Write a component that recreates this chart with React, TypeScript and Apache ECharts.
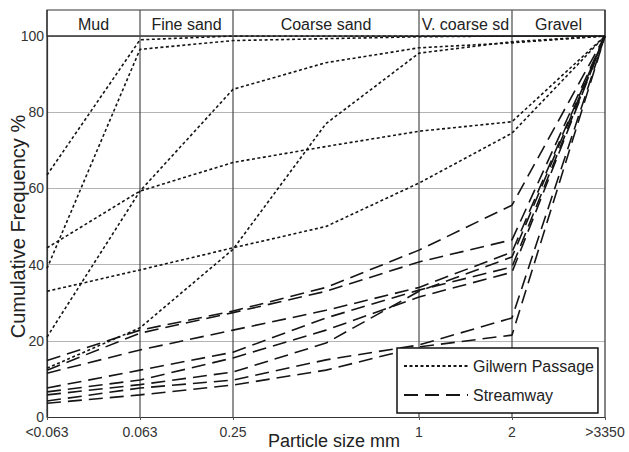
import React, { useEffect, useRef } from "react";
import * as echarts from "echarts";

// x positions of the size classes: <0.063, 0.063, 0.25, 0.5, 1, 2, >3350 mm
const xSteps = [0, 1, 2, 3, 4, 5, 6];
const tickValues = [0, 1, 2, 4, 5, 6];
const tickLabels = ["<0.063", "0.063", "0.25", "1", "2", ">3350"];
const sectionBounds = [0, 1, 2, 4, 5, 6];
const sectionNames = ["Mud", "Fine sand", "Coarse sand", "V. coarse sd", "Gravel"];

// Gilwern Passage (cumulative %)
const gilwernA = [63.5, 99, 100, 100, 100, 100, 100];
const gilwernB = [39, 96.5, 98.8, 99.3, 99.8, 100, 100];
const gilwernC = [44.4, 59.3, 66.8, 71, 75, 77.5, 100];
const gilwernD = [12.8, 23.4, 44, 77, 95.5, 98.5, 100];
const gilwernE = [21, 59.3, 86, 93, 96.9, 98.2, 100];
const gilwernF = [33, 38.6, 44.4, 50, 61.4, 74.5, 100];

// Streamway (cumulative %)
const streamA = [14.8, 22.8, 27.8, 34, 43.8, 55.6, 100];
const streamB = [12.3, 22, 27.4, 33, 40.7, 46.5, 100];
const streamC = [11.5, 17.6, 22.8, 28, 34, 43.3, 100];
const streamD = [7.6, 12.3, 17, 26, 33.3, 39.4, 100];
const streamE = [6.6, 9.7, 15.5, 22.8, 31.5, 38, 100];
const streamF = [5.8, 8.5, 11.8, 19.4, 33, 42, 100];
const streamG = [4.2, 7.6, 9.7, 15, 18.9, 26, 100];
const streamH = [3.6, 5.8, 8.4, 12.3, 18.4, 21.5, 100];

const gilwernSeries = [gilwernA, gilwernB, gilwernC, gilwernD, gilwernE, gilwernF];
const streamSeries = [streamA, streamB, streamC, streamD, streamE, streamF, streamG, streamH];

const FONT = "'Liberation Sans', Arial, Helvetica, sans-serif";

export default function App() {
  const ref = useRef<HTMLDivElement>(null);

  useEffect(() => {
    document.body.style.margin = "0";
    if (!ref.current) return;
    const chart = echarts.init(ref.current, null, { renderer: "svg" });

    const mk = (name: string, arr: number[], dash: number[]) => ({
      type: "line",
      name,
      data: xSteps.map((x, i) => [x, arr[i]]),
      symbol: "none",
      symbolSize: 0,
      showSymbol: false,
      lineStyle: { color: "#151515", width: 1.6, type: dash },
      itemStyle: { color: "#151515" },
      z: 3,
    });

    const series: any[] = [
      ...gilwernSeries.map((a) => mk("Gilwern Passage", a, [3, 2.5])),
      ...streamSeries.map((a) => mk("Streamway", a, [14, 7])),
    ];

    chart.setOption({
      animation: false,
      textStyle: { fontFamily: FONT },
      grid: {
        left: 47,
        right: 24,
        top: 36,
        bottom: 35,
        containLabel: false,
        outerBoundsMode: "none",
      },
      xAxis: {
        type: "value",
        min: 0,
        max: 6,
        name: "Particle size mm",
        nameLocation: "middle",
        nameGap: 15,
        nameMoveOverlap: false,
        nameTextStyle: { fontSize: 18, color: "#222", lineHeight: 18, padding: [0, 0, 0, 16] },
        splitLine: { show: false },
        axisLine: { show: true, lineStyle: { color: "#333", width: 1.2 } },
        axisTick: {
          show: true,
          customValues: tickValues,
          length: 3,
          lineStyle: { color: "#555" },
        },
        axisLabel: {
          customValues: tickValues,
          fontSize: 14,
          lineHeight: 14,
          color: "#333",
          margin: 8,
          formatter: (v: number) => {
            const i = tickValues.indexOf(v);
            return i >= 0 ? tickLabels[i] : "";
          },
        },
      },
      yAxis: {
        type: "value",
        min: 0,
        max: 100,
        interval: 20,
        name: "Cumulative Frequency %",
        nameLocation: "middle",
        nameGap: 19,
        nameMoveOverlap: false,
        nameTextStyle: { fontSize: 20, color: "#222" },
        axisLine: { show: true, lineStyle: { color: "#333", width: 1.2 } },
        axisTick: { show: false },
        axisLabel: { fontSize: 14, lineHeight: 14, color: "#333", margin: 3 },
        splitLine: { show: true, lineStyle: { color: "#b4b4b4", width: 1 } },
      },
      legend: {
        data: ["Gilwern Passage", "Streamway"],
        orient: "vertical",
        left: 397,
        top: 348,
        itemWidth: 64,
        itemHeight: 14,
        itemGap: 11,
        padding: [9, 4, 9, 6],
        backgroundColor: "#fff",
        borderColor: "#111",
        borderWidth: 1.5,
        itemStyle: { color: "rgba(0,0,0,0)", borderWidth: 0, opacity: 0 },
        textStyle: { fontSize: 16, color: "#222", lineHeight: 18, fontFamily: FONT },
        z: 10,
      },
      series,
    });

    const px = (x: number, y: number) =>
      chart.convertToPixel({ gridIndex: 0 } as any, [x, y]) as number[];
    const top = px(0, 100)[1];
    const bottom = px(0, 0)[1];
    const left = px(0, 0)[0];
    const right = px(6, 0)[0];
    const headerTop = top - 26;
    const stroke = "#4a4a4a";

    const graphics: any[] = [
      {
        type: "rect",
        shape: { x: left, y: headerTop, width: right - left, height: top - headerTop },
        style: { fill: "none", stroke: "#333", lineWidth: 1.2 },
        z: 1,
      },
      {
        type: "line",
        shape: { x1: left, y1: top, x2: right, y2: top },
        style: { stroke: "#333", lineWidth: 1.2 },
        z: 1,
      },
      {
        type: "line",
        shape: { x1: left, y1: headerTop, x2: left, y2: bottom },
        style: { stroke: "#333", lineWidth: 1.2 },
        z: 1,
      },
      {
        type: "line",
        shape: { x1: right, y1: headerTop, x2: right, y2: bottom },
        style: { stroke: "#333", lineWidth: 1.2 },
        z: 1,
      },
    ];
    sectionBounds.slice(1, -1).forEach((b) => {
      const x = px(b, 0)[0];
      graphics.push({
        type: "line",
        shape: { x1: x, y1: headerTop, x2: x, y2: bottom },
        style: { stroke, lineWidth: 1.2 },
        z: 1,
      });
    });
    sectionNames.forEach((name, i) => {
      const x0 = px(sectionBounds[i], 0)[0];
      const x1 = px(sectionBounds[i + 1], 0)[0];
      graphics.push({
        type: "text",
        x: (x0 + x1) / 2,
        y: (headerTop + top) / 2 + 1,
        style: {
          text: name,
          fontSize: 16,
          fontFamily: FONT,
          fill: "#222",
          align: "center",
          verticalAlign: "middle",
        },
        z: 2,
      });
    });
    chart.setOption({ graphic: graphics });

    return () => chart.dispose();
  }, []);

  return <div ref={ref} style={{ width: 629, height: 452 }} />;
}
